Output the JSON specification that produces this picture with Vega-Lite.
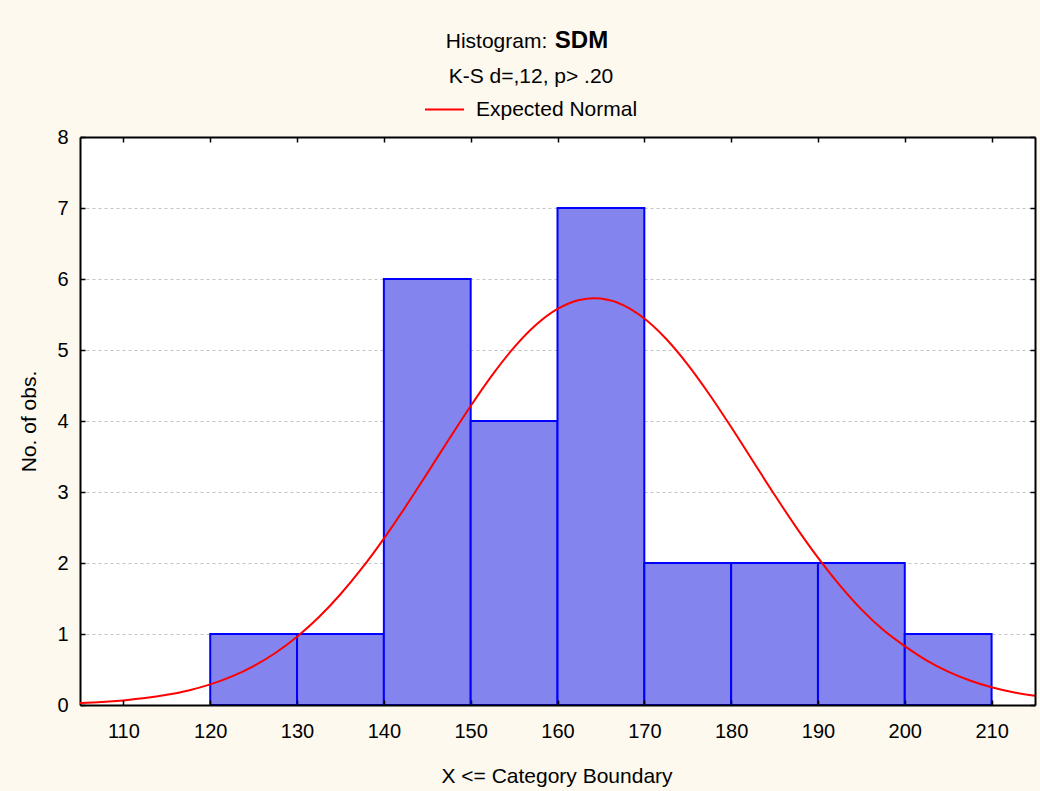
{
  "$schema": "https://vega.github.io/schema/vega-lite/v6.json",
  "width": 955,
  "height": 568,
  "autosize": {"type": "none"},
  "padding": {"left": 80, "top": 137, "right": 5, "bottom": 86},
  "background": "#FDF9EF",
  "config": {
    "font": "Liberation Sans",
    "view": {"fill": "white", "stroke": null},
    "axis": {
      "labelFont": "Liberation Sans",
      "labelFontSize": 20,
      "labelColor": "black",
      "titleFont": "Liberation Sans",
      "titleFontSize": 21,
      "titleFontWeight": "normal",
      "titleColor": "black",
      "domainColor": "black",
      "domainWidth": 2,
      "tickColor": "black",
      "tickWidth": 1.5,
      "tickSize": -5,
      "gridColor": "#c4c4c4",
      "gridDash": [3, 3],
      "gridWidth": 1
    },
    "legend": {
      "labelFont": "Liberation Sans",
      "titleFont": "Liberation Sans"
    }
  },
  "datasets": {
    "bins": [
      {"bin_start": 120, "bin_end": 130, "count": 1},
      {"bin_start": 130, "bin_end": 140, "count": 1},
      {"bin_start": 140, "bin_end": 150, "count": 6},
      {"bin_start": 150, "bin_end": 160, "count": 4},
      {"bin_start": 160, "bin_end": 170, "count": 7},
      {"bin_start": 170, "bin_end": 180, "count": 2},
      {"bin_start": 180, "bin_end": 190, "count": 2},
      {"bin_start": 190, "bin_end": 200, "count": 2},
      {"bin_start": 200, "bin_end": 210, "count": 1}
    ],
    "normal": [
      {"x": 105, "y": 0.027},
      {"x": 107.5, "y": 0.042},
      {"x": 110, "y": 0.065},
      {"x": 112.5, "y": 0.097},
      {"x": 115, "y": 0.143},
      {"x": 117.5, "y": 0.205},
      {"x": 120, "y": 0.290},
      {"x": 122.5, "y": 0.403},
      {"x": 125, "y": 0.549},
      {"x": 127.5, "y": 0.733},
      {"x": 130, "y": 0.962},
      {"x": 132.5, "y": 1.236},
      {"x": 135, "y": 1.560},
      {"x": 137.5, "y": 1.930},
      {"x": 140, "y": 2.344},
      {"x": 142.5, "y": 2.793},
      {"x": 145, "y": 3.264},
      {"x": 147.5, "y": 3.743},
      {"x": 150, "y": 4.212},
      {"x": 152.5, "y": 4.650},
      {"x": 155, "y": 5.036},
      {"x": 157.5, "y": 5.351},
      {"x": 160, "y": 5.578},
      {"x": 162.5, "y": 5.705},
      {"x": 164.2, "y": 5.730},
      {"x": 165, "y": 5.724},
      {"x": 167.5, "y": 5.636},
      {"x": 170, "y": 5.443},
      {"x": 172.5, "y": 5.158},
      {"x": 175, "y": 4.795},
      {"x": 177.5, "y": 4.374},
      {"x": 180, "y": 3.915},
      {"x": 182.5, "y": 3.437},
      {"x": 185, "y": 2.961},
      {"x": 187.5, "y": 2.502},
      {"x": 190, "y": 2.075},
      {"x": 192.5, "y": 1.688},
      {"x": 195, "y": 1.347},
      {"x": 197.5, "y": 1.060},
      {"x": 200, "y": 0.830},
      {"x": 202.5, "y": 0.630},
      {"x": 205, "y": 0.470},
      {"x": 207.5, "y": 0.345},
      {"x": 210, "y": 0.250},
      {"x": 212.5, "y": 0.180},
      {"x": 215, "y": 0.130}
    ]
  },
  "resolve": {"axis": {"x": "independent", "y": "independent"}},
  "layer": [
    {
      "data": {"name": "bins"},
      "mark": {"type": "rect", "fill": "#8484ee", "stroke": "#0000ff", "strokeWidth": 2},
      "encoding": {
        "x": {
          "field": "bin_start",
          "type": "quantitative",
          "scale": {"domain": [105, 215], "nice": false, "zero": false},
          "axis": {
            "orient": "bottom",
            "values": [110, 120, 130, 140, 150, 160, 170, 180, 190, 200, 210],
            "grid": false,
            "labelPadding": 21.5,
            "title": "X <= Category Boundary",
            "titleX": 476.5,
            "titleY": 77,
            "titleAlign": "center",
            "titleBaseline": "alphabetic",
            "zindex": 1
          }
        },
        "x2": {"field": "bin_end"},
        "y": {
          "field": "count",
          "type": "quantitative",
          "scale": {"domain": [0, 8], "nice": false},
          "axis": {
            "orient": "left",
            "values": [0, 1, 2, 3, 4, 5, 6, 7, 8],
            "grid": true,
            "labelPadding": 17,
            "title": "No. of obs.",
            "titleAngle": -90,
            "titleX": -45,
            "titleY": 284,
            "titleAlign": "center",
            "titleBaseline": "alphabetic",
            "zindex": 0
          }
        },
        "y2": {"datum": 0}
      }
    },
    {
      "data": {"name": "normal"},
      "mark": {"type": "line", "strokeWidth": 2, "clip": true, "interpolate": "monotone"},
      "encoding": {
        "x": {
          "field": "x",
          "type": "quantitative",
          "scale": {"domain": [105, 215], "nice": false, "zero": false},
          "axis": {
            "orient": "top",
            "values": [110, 120, 130, 140, 150, 160, 170, 180, 190, 200, 210],
            "labels": false,
            "grid": false,
            "title": "Histogram:",
            "titleX": 416,
            "titleY": -90,
            "titleAlign": "center",
            "titleBaseline": "alphabetic",
            "zindex": 1
          }
        },
        "y": {
          "field": "y",
          "type": "quantitative",
          "scale": {"domain": [0, 8], "nice": false},
          "axis": {
            "orient": "right",
            "values": [0, 1, 2, 3, 4, 5, 6, 7, 8],
            "labels": false,
            "grid": false,
            "title": "SDM",
            "titleFontWeight": "bold",
            "titleFontSize": 24,
            "titleAngle": 0,
            "titleX": -454,
            "titleY": -90,
            "titleAlign": "center",
            "titleBaseline": "alphabetic",
            "zindex": 1
          }
        },
        "color": {
          "datum": "Expected Normal",
          "type": "nominal",
          "scale": {"range": ["#ff0000"]},
          "legend": {
            "orient": "none",
            "legendX": 344,
            "legendY": -71,
            "title": "K-S d=,12, p> .20",
            "titleFontSize": 21,
            "titleFontWeight": "normal",
            "titleColor": "black",
            "titleAnchor": "middle",
            "titlePadding": 2,
            "labelFontSize": 21,
            "labelColor": "black",
            "labelOffset": 11,
            "labelLimit": 0,
            "symbolType": "stroke",
            "symbolSize": 1521,
            "symbolStrokeWidth": 2,
            "padding": 0
          }
        }
      }
    }
  ]
}
